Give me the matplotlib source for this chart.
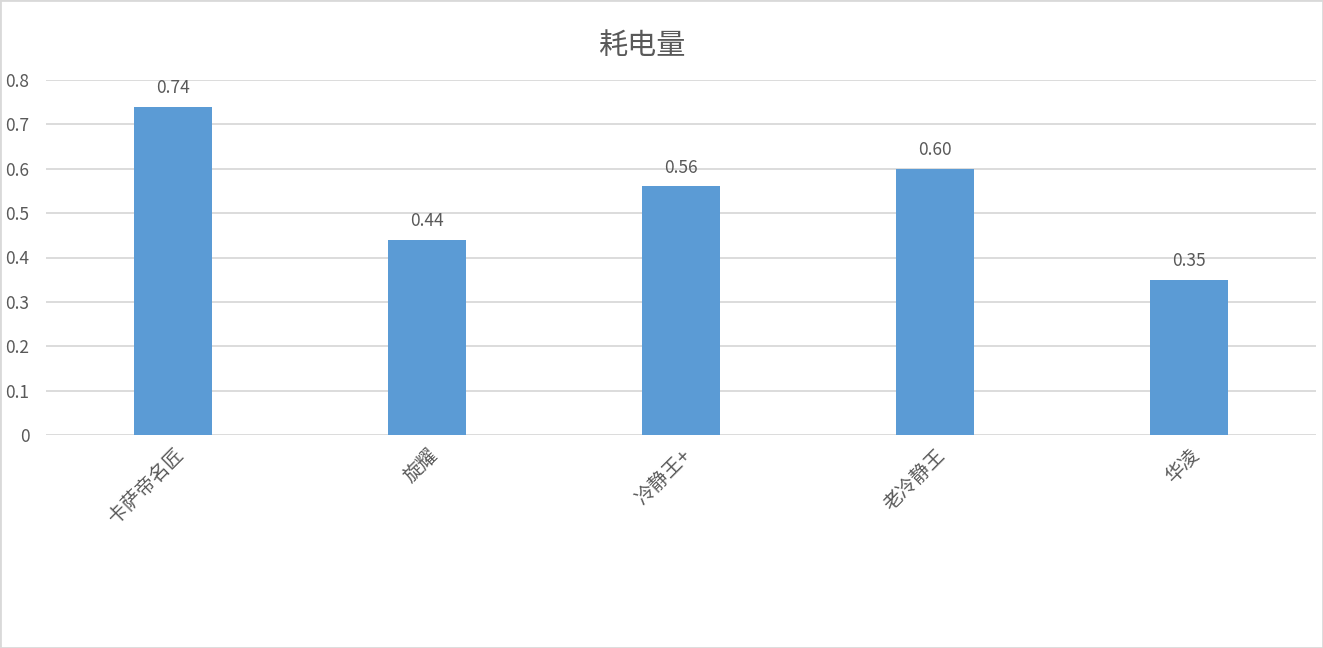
import matplotlib
matplotlib.use("Agg")
import matplotlib.pyplot as plt
from matplotlib.patches import Rectangle

plt.rcParams['font.family'] = ['Noto Sans CJK SC', 'DejaVu Sans']

categories = ["卡萨帝名匠", "旋耀", "冷静王+", "老冷静王", "华凌"]
values = [0.74, 0.44, 0.56, 0.60, 0.35]
yticks = [0, 0.1, 0.2, 0.3, 0.4, 0.5, 0.6, 0.7, 0.8]
ytick_labels = ["0", "0.1", "0.2", "0.3", "0.4", "0.5", "0.6", "0.7", "0.8"]

text_col = "#595959"
grid_col = "#D9D9D9"
bar_col = "#5B9BD5"

fig = plt.figure(figsize=(13.23, 6.48), dpi=100)
ax = fig.add_axes([46 / 1323, 213 / 648, 1270 / 1323, 355 / 648])

x = range(len(categories))
bars = ax.bar(x, values, width=0.31, color=bar_col, zorder=3)

# value labels above bars
for b, v in zip(bars, values):
    ax.annotate(f"{v:.2f}", (b.get_x() + b.get_width() / 2, v),
                xytext=(0, 7), textcoords="offset points",
                ha="center", va="bottom", fontsize=12.5, color=text_col)

ax.set_xlim(-0.5, len(categories) - 0.5)
ax.set_ylim(0, 0.8)
ax.set_yticks(yticks)
ax.set_yticklabels(ytick_labels, fontsize=12.5, color=text_col)
ax.set_xticks(list(x))
ax.set_xticklabels(categories, fontsize=14, color=text_col, rotation=45,
                   ha="right", rotation_mode="anchor")
ax.tick_params(axis="both", length=0)
ax.tick_params(axis="y", pad=12)
ax.tick_params(axis="x", pad=7)

ax.grid(axis="y", color=grid_col, linewidth=1.3, zorder=0)
for s in ax.spines.values():
    s.set_visible(False)

fig.text(0.486, 1 - 46 / 648, "耗电量", ha="center", va="center",
         fontsize=21, color=text_col)

fig.patches.append(Rectangle((0, 0), 1, 1, transform=fig.transFigure,
                             fill=False, edgecolor=grid_col, linewidth=2))

fig.savefig("out.png", dpi=100)
